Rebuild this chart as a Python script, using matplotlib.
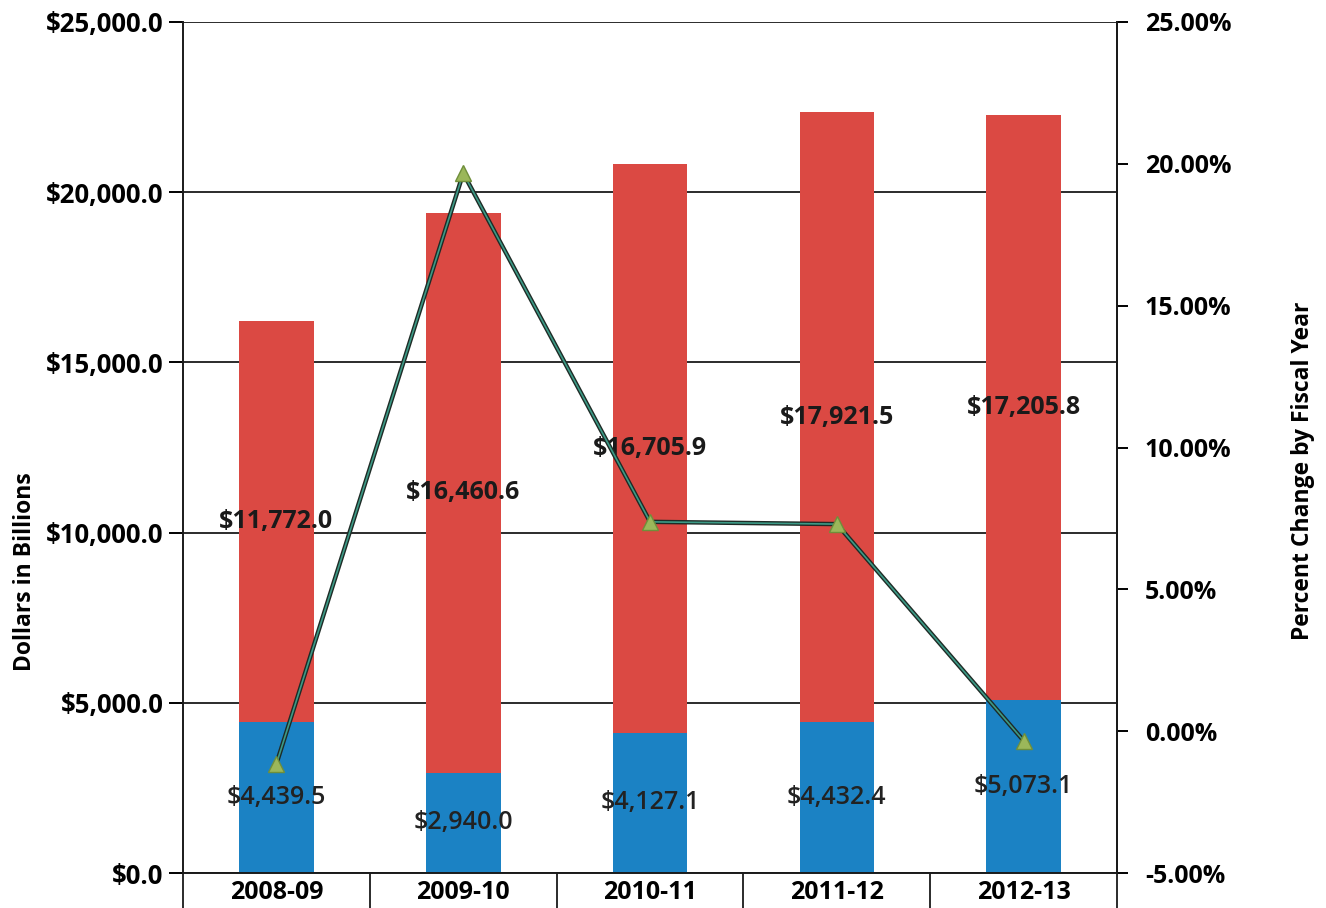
import matplotlib
matplotlib.use("Agg")
import matplotlib.pyplot as plt
import matplotlib.patheffects as pe
import numpy as np
from matplotlib.ticker import FuncFormatter, MultipleLocator, FixedLocator

plt.rcParams['font.family'] = ['Open Sans', 'DejaVu Sans']

years = ["2008-09", "2009-10", "2010-11", "2011-12", "2012-13"]
blue_vals = [4439.5, 2940.0, 4127.1, 4432.4, 5073.1]
red_vals = [11772.0, 16460.6, 16705.9, 17921.5, 17205.8]
pct_change = [-1.15, 19.67, 7.38, 7.30, -0.34]

red = "#db4943"
blue = "#1b82c4"
fs = 18

fig = plt.figure(figsize=(13.26, 9.08), dpi=100)
ax = fig.add_axes([0.138, 0.0385, 0.7045, 0.9373])
x = np.arange(len(years))

ax.yaxis.grid(True, color="#2b2b2b", linewidth=1.4)
ax.set_axisbelow(True)

b1 = ax.bar(x, blue_vals, width=0.4, color=blue, zorder=2)
b2 = ax.bar(x, red_vals, width=0.4, bottom=blue_vals, color=red, zorder=2)

def money(v):
    return f"${v:,.1f}"

ax.bar_label(b1, labels=[money(v) for v in blue_vals], label_type="center",
             fontsize=fs, fontweight=600, color="#222222", zorder=5)
ax.bar_label(b2, labels=[money(v) for v in red_vals], label_type="center",
             fontsize=fs, fontweight="bold", color="#1a1a1a", zorder=5)

ax.set_xlim(-0.5, len(years) - 0.5)
ax.set_ylim(0, 25000)
ax.yaxis.set_major_locator(MultipleLocator(5000))
ax.yaxis.set_major_formatter(FuncFormatter(lambda v, p: f"${v:,.1f}"))
ax.set_xticks(x)
ax.set_xticklabels(years, fontsize=fs, fontweight="bold")
ax.xaxis.set_minor_locator(FixedLocator(np.arange(-0.5, len(years), 1.0)))
ax.tick_params(axis="x", which="major", length=0, pad=5)
ax.tick_params(axis="x", which="minor", length=36, width=1.4, color="#2b2b2b")
ax.tick_params(axis="y", length=10, width=1.4, labelsize=18.5, pad=4)
for lbl in ax.get_yticklabels():
    lbl.set_fontweight("bold")

for side in ["left", "right", "bottom"]:
    ax.spines[side].set_linewidth(1.4)
    ax.spines[side].set_color("#1a1a1a")
ax.spines["top"].set_visible(False)

ax2 = ax.twinx()
ax2.set_ylim(-5, 25)
ax2.yaxis.set_major_locator(MultipleLocator(5))
ax2.yaxis.set_major_formatter(FuncFormatter(lambda v, p: f"{v:.2f}%"))
ax2.tick_params(axis="y", length=8, width=1.4, labelsize=fs, pad=12)
for lbl in ax2.get_yticklabels():
    lbl.set_fontweight("bold")
for side in ["top", "left", "bottom"]:
    ax2.spines[side].set_visible(False)
ax2.spines["right"].set_linewidth(1.4)
ax2.spines["right"].set_color("#1a1a1a")

ax2.plot(x, pct_change, color="#3c9a86", linewidth=1.2, zorder=4,
         path_effects=[pe.Stroke(linewidth=3.2, foreground="#1e2b26"), pe.Normal()])
ax2.plot(x, pct_change, linestyle="none", marker="^", markersize=12,
         markerfacecolor="#9bb75a", markeredgecolor="#6f8f3a", zorder=6)

# axis titles sit off-centre, so place them in figure coordinates
fig.text(0.019, 0.371, "Dollars in Billions", rotation=90, ha="center", va="center",
         fontsize=16.5, fontweight="bold")
fig.text(0.983, 0.481, "Percent Change by Fiscal Year", rotation=90, ha="center",
         va="center", fontsize=16.5, fontweight="bold")

fig.savefig("out.png", dpi=100)
